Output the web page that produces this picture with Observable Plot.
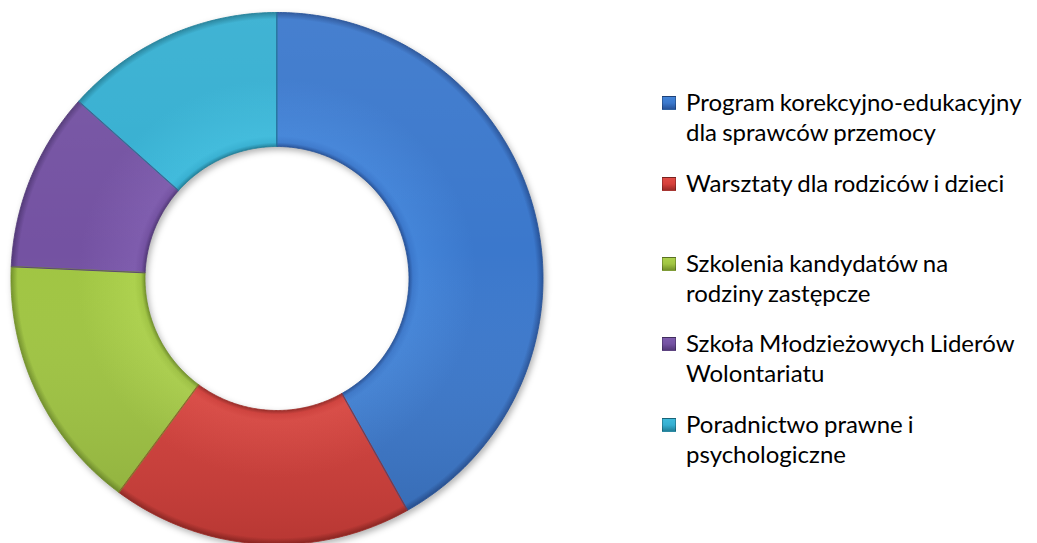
<!DOCTYPE html>
<html>
<head>
<meta charset="utf-8">
<script src="https://cdn.jsdelivr.net/npm/d3@7"></script>
<script src="https://cdn.jsdelivr.net/npm/@observablehq/plot@0.6"></script>
<style>
  html, body { margin: 0; padding: 0; background: #ffffff; }
  #wrap { position: relative; width: 1037px; height: 543px; overflow: hidden; font-family: Lato, "Open Sans", sans-serif; }
  #chart { position: absolute; left: 0; top: 0; }
  #chart svg { background: transparent !important; overflow: visible; filter: drop-shadow(2px 3px 3px rgba(0,0,0,0.30)); }
  .entry { position: absolute; left: 662px; font-size: 24px; line-height: 30px; color: #000; white-space: pre; word-spacing: -1px; }
  .entry .key { position: absolute; left: 0; top: 9px; width: 14px; height: 14px; border: 1px solid rgba(0,0,0,0.25); box-sizing: border-box; }
  .entry .txt { padding-left: 24px; }
</style>
</head>
<body>
<div id="wrap">
  <div id="chart"></div>
  <div id="legend"></div>
</div>
<script>
// ---- data ----
const categories = [
  "Program korekcyjno-edukacyjny dla sprawców przemocy",
  "Warsztaty dla rodziców i dzieci",
  "Szkolenia kandydatów na rodziny zastępcze",
  "Szkoła Młodzieżowych Liderów Wolontariatu",
  "Poradnictwo prawne i psychologiczne"
];
const legendLabels = [
  "Program korekcyjno-edukacyjny\ndla sprawców przemocy",
  "Warsztaty dla rodziców i dzieci",
  "Szkolenia kandydatów na\nrodziny zastępcze",
  "Szkoła Młodzieżowych Liderów\nWolontariatu",
  "Poradnictwo prawne i\npsychologiczne"
];
const values = [41.9, 18.3, 15.6, 10.9, 13.4];

// ---- styles ----
const baseColors  = ["#3B78CC", "#D6403B", "#A0C542", "#7452A2", "#35AFD1"];
const lightColors = ["#4384D8", "#E04B45", "#ACD14C", "#7E5CAD", "#3EBADB"];
const darkColors  = ["#27539A", "#9C2A26", "#73922A", "#533979", "#20809A"];

// ---- layout ----
const W = 555, H = 543;
const cx = 276.5, cy = 278, R = 266;
const innerRatio = 132 / 266;
const legendBaselines = [111, 192, 272, 352, 433];

// build slice polygons from the data
const arcs = d3.pie().sort(null).value(d => d)(values);
function slicePoints(a0, a1) {
  const n = Math.max(8, Math.ceil((a1 - a0) / 0.01));
  const pts = [];
  for (let k = 0; k <= n; k++) {
    const a = a0 + (a1 - a0) * k / n;
    pts.push({x: Math.sin(a), y: Math.cos(a)});
  }
  for (let k = n; k >= 0; k--) {
    const a = a0 + (a1 - a0) * k / n;
    pts.push({x: innerRatio * Math.sin(a), y: innerRatio * Math.cos(a)});
  }
  return pts;
}
const slices = arcs.map((a, i) => ({i, name: categories[i], points: slicePoints(a.startAngle, a.endAngle)}));

const marks = [];
slices.forEach(s => {
  marks.push(Plot.line(s.points, {x: "x", y: "y", curve: "linear-closed", fill: `url(#slice${s.i})`, stroke: "none"}));
});
slices.forEach(s => {
  marks.push(Plot.line(s.points, {x: "x", y: "y", curve: "linear-closed", fill: "url(#light)", stroke: darkColors[s.i], strokeWidth: 1, strokeOpacity: 0.85, title: () => s.name}));
});

const chart = Plot.plot({
  width: W,
  height: H,
  margin: 0,
  x: {domain: [-cx / R, (W - cx) / R], axis: null},
  y: {domain: [-(H - cy) / R, cy / R], axis: null},
  marks
});

// gradients
const NS = "http://www.w3.org/2000/svg";
const defs = document.createElementNS(NS, "defs");
function stop(g, off, col, op = 1) {
  const s = document.createElementNS(NS, "stop");
  s.setAttribute("offset", off);
  s.setAttribute("stop-color", col);
  s.setAttribute("stop-opacity", op);
  g.appendChild(s);
}
baseColors.forEach((c, i) => {
  const g = document.createElementNS(NS, "radialGradient");
  g.setAttribute("id", `slice${i}`);
  g.setAttribute("gradientUnits", "userSpaceOnUse");
  g.setAttribute("cx", cx); g.setAttribute("cy", cy); g.setAttribute("r", R);
  const ir = innerRatio;
  stop(g, ir, darkColors[i]);
  stop(g, ir + 0.015, c);
  stop(g, ir + 0.04, lightColors[i]);
  stop(g, 0.75, c);
  stop(g, 0.975, c);
  stop(g, 1, darkColors[i]);
  defs.appendChild(g);
});
const lg = document.createElementNS(NS, "linearGradient");
lg.setAttribute("id", "light");
lg.setAttribute("x1", 0); lg.setAttribute("x2", 0);
lg.setAttribute("gradientUnits", "userSpaceOnUse");
lg.setAttribute("y1", cy - R); lg.setAttribute("y2", cy + R);
stop(lg, 0, "#ffffff", 0.06);
stop(lg, 0.45, "#ffffff", 0);
stop(lg, 1, "#000000", 0.14);
defs.appendChild(lg);
chart.insertBefore(defs, chart.firstChild);
document.getElementById("chart").appendChild(chart);

// legend
const legend = document.getElementById("legend");
legendLabels.forEach((label, i) => {
  const e = document.createElement("div");
  e.className = "entry";
  e.style.top = (legendBaselines[i] - 24) + "px";
  const key = document.createElement("div");
  key.className = "key";
  key.style.background = `linear-gradient(180deg, ${lightColors[i]} 0%, ${baseColors[i]} 50%, ${darkColors[i]} 100%)`;
  const t = document.createElement("div");
  t.className = "txt";
  t.textContent = label;
  e.appendChild(key);
  e.appendChild(t);
  legend.appendChild(e);
});
</script>
</body>
</html>
